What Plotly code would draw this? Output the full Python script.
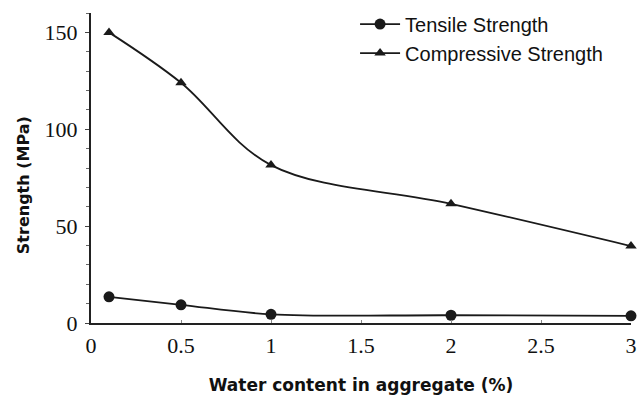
import plotly.graph_objects as go

water = [0.1, 0.5, 1, 2, 3]
tensile = [13.5, 9.4, 4.5, 4.0, 3.7]
compressive = [150, 124, 81.5, 61.5, 39.7]

x_ticks = [0, 0.5, 1, 1.5, 2, 2.5, 3]
x_tick_text = ["0", "0.5", "1", "1.5", "2", "2.5", "3"]
y_ticks = [0, 50, 100, 150]

fig = go.Figure()
fig.add_trace(go.Scatter(
    x=water, y=tensile, name="Tensile Strength", mode="lines+markers",
    line=dict(color="#1a1a1a", width=1.8, shape="spline", smoothing=1),
    marker=dict(symbol="circle", size=11, color="#1a1a1a"),
    cliponaxis=False,
))
fig.add_trace(go.Scatter(
    x=water, y=compressive, name="Compressive Strength", mode="lines+markers",
    line=dict(color="#1a1a1a", width=1.8, shape="spline", smoothing=1),
    marker=dict(symbol="triangle-up", size=10, color="#1a1a1a"),
    cliponaxis=False,
))

fig.add_annotation(
    text="Strength (MPa)", textangle=-90, showarrow=False,
    xref="paper", yref="paper", x=-0.125, y=0.443, xanchor="center", yanchor="middle",
    font=dict(family="DejaVu Sans, Verdana, sans-serif", size=16, color="#111", weight="bold"),
)

fig.update_layout(
    width=637, height=407,
    margin=dict(l=91, r=6, t=12, b=84),
    paper_bgcolor="white", plot_bgcolor="white",
    showlegend=True,
    legend=dict(
        x=0.489, y=1.024, xanchor="left", yanchor="top",
        font=dict(family="Liberation Sans, Arial, sans-serif", size=20, color="#111"),
        bgcolor="rgba(0,0,0,0)", tracegroupgap=0, itemwidth=40,
    ),
    xaxis=dict(
        range=[0, 3], tickvals=x_ticks, ticktext=x_tick_text, automargin=False,
        showline=True, linecolor="#222", linewidth=2, showgrid=False, zeroline=False,
        ticks="inside", ticklen=3, tickcolor="#888", ticklabelstandoff=2,
        tickfont=dict(family="Liberation Serif, Times New Roman, serif", size=22, color="#111"),
        title=dict(text="Water content in aggregate (%)", standoff=22,
                   font=dict(family="DejaVu Sans, Verdana, sans-serif", size=17, color="#111", weight="bold")),
    ),
    yaxis=dict(
        range=[0, 160], tickvals=y_ticks, automargin=False,
        showline=True, linecolor="#222", linewidth=2, showgrid=False, zeroline=False,
        ticks="outside", ticklen=4, tickcolor="#444", ticklabelstandoff=3,
        minor=dict(dtick=10, ticks="outside", ticklen=3, tickcolor="#666"),
        tickfont=dict(family="Liberation Serif, Times New Roman, serif", size=22, color="#111"),
    ),
)

fig.write_html("out.html", config={"displayModeBar": False},
               post_script="document.body.style.margin='0';")
